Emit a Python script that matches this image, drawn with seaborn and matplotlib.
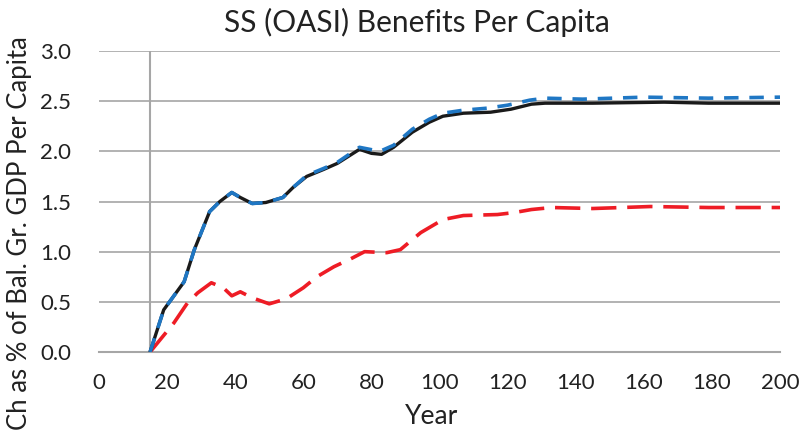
import matplotlib.pyplot as plt
import seaborn as sns
import pandas as pd

# values
years_black = [15, 19, 25, 28, 32.5, 35.5, 39, 41.5, 45, 49, 54, 57, 61, 66, 70, 76.5, 80, 83, 86.5,
               92, 97, 101, 107, 115, 121, 127, 131, 145, 166, 179, 200]
solid_line = [0.0, 0.42, 0.70, 1.02, 1.40, 1.50, 1.59, 1.54, 1.48, 1.49, 1.54, 1.64, 1.75, 1.82, 1.88, 2.02, 1.98,
              1.97, 2.04, 2.19, 2.29, 2.35, 2.38, 2.39, 2.42, 2.47, 2.48, 2.48, 2.49, 2.48, 2.48]

years_blue = [15, 19, 25, 28, 32.5, 35.5, 39, 41.5, 45, 49, 54, 57, 61, 66, 70, 76.5, 82.5, 86.5, 92, 97,
              101, 107, 114, 120, 126.5, 131, 142, 160, 179, 200]
blue_line = [0.0, 0.42, 0.70, 1.02, 1.40, 1.50, 1.59, 1.54, 1.48, 1.49, 1.54, 1.64, 1.76, 1.83, 1.89, 2.04, 2.00,
             2.06, 2.22, 2.32, 2.38, 2.41, 2.43, 2.46, 2.51, 2.53, 2.52, 2.54, 2.53, 2.54]

years_red = [15, 22, 26, 29, 33, 36.5, 39, 41.5, 45, 50, 55, 60, 64, 69, 74, 78, 84.5, 88.5, 94.5,
             101, 107, 117, 122, 127, 133, 145, 162, 179, 200]
red_line = [0.0, 0.29, 0.49, 0.59, 0.69, 0.64, 0.56, 0.60, 0.54, 0.48, 0.53, 0.64, 0.75, 0.85, 0.93, 1.00,
            0.99, 1.02, 1.19, 1.32, 1.36, 1.37, 1.39, 1.42, 1.44, 1.43, 1.45, 1.44, 1.44]

y_ticks = [0, 0.5, 1.0, 1.5, 2.0, 2.5, 3.0]

df_black = pd.DataFrame({"Year": years_black, "Value": solid_line})
df_blue = pd.DataFrame({"Year": years_blue, "Value": blue_line})
df_red = pd.DataFrame({"Year": years_red, "Value": red_line})

sns.set_style("white")
plt.rcParams['font.family'] = ['Lato', 'DejaVu Sans']

fig = plt.figure(figsize=(8.01, 4.32), dpi=100)
ax = fig.add_axes([99 / 801, 1 - 352 / 432, 681 / 801, 301 / 432])

grid_col = "#a6a6a6"
ax.set_xlim(0, 200)
ax.set_ylim(0, 3.0)
for yv in y_ticks[1:]:
    ax.axhline(yv, color=grid_col, lw=1.2, zorder=0)
ax.axvline(15, color=grid_col, lw=1.5, zorder=0)

sns.lineplot(data=df_red, x="Year", y="Value", ax=ax, sort=False, color="#ee1c25",
             lw=2.6, zorder=3).lines[-1].set_dashes((7, 3))
sns.lineplot(data=df_black, x="Year", y="Value", ax=ax, sort=False, color="#1a1a1a",
             lw=2.4, zorder=4)
sns.lineplot(data=df_blue, x="Year", y="Value", ax=ax, sort=False, color="#1f77c4",
             lw=2.6, zorder=5).lines[-1].set_dashes((4, 3))

for s in ["top", "right", "left"]:
    ax.spines[s].set_visible(False)
ax.spines["bottom"].set_color(grid_col)
ax.spines["bottom"].set_linewidth(1.5)

ax.set_xticks(range(0, 201, 20))
ax.set_yticks(y_ticks)
ax.set_yticklabels([f"{v:.1f}" for v in y_ticks])
ax.tick_params(axis="x", direction="out", length=7, width=1.5, color=grid_col,
               labelsize=16, labelcolor="#222222", pad=8)
ax.tick_params(axis="y", length=0, labelsize=16, labelcolor="#222222", pad=20)

ax.set_xlabel("Year", fontsize=19, color="#222222")
ax.xaxis.set_label_coords((432 - 99) / 681, -(417 - 352) / 301)
ax.xaxis.label.set_va("center")
ax.set_ylabel("Ch as % of Bal. Gr. GDP Per Capita", fontsize=18.5, color="#222222")
ax.yaxis.set_label_coords((20 - 99) / 681, (352 - 233.5) / 301)
ax.yaxis.label.set_va("center")
fig.text(417 / 801, 1 - 22 / 432, "SS (OASI) Benefits Per Capita", fontsize=21.5,
         color="#222222", ha="center", va="center")

fig.savefig("out.png", dpi=100)
